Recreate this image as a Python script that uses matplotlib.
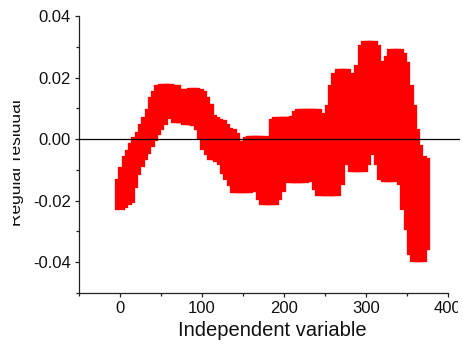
import matplotlib
matplotlib.use("Agg")
import matplotlib.pyplot as plt
from matplotlib.ticker import MultipleLocator, FormatStrFormatter
from matplotlib.transforms import Bbox, TransformedBbox

plt.rcParams["font.family"] = ["Liberation Sans", "DejaVu Sans"]
plt.rcParams["axes.unicode_minus"] = False

# Independent variable grid with the highest and lowest regular residual
# found at each step
independent = list(range(0, 373, 4))
residual_high = [
    -0.0145, -0.0106, -0.0070, -0.0050, -0.0028, -0.0011, 0.0008, 0.0034,
    0.0057, 0.0083, 0.0119, 0.0141, 0.0161, 0.0164, 0.0164, 0.0164,
    0.0161, 0.0158, 0.0145, 0.0141, 0.0145, 0.0148, 0.0151, 0.0151,
    0.0148, 0.0141, 0.0122, 0.0099, 0.0063, 0.0054, 0.0050, 0.0047,
    0.0034, 0.0021, 0.0018, 0.0002, -0.0021, -0.0028, -0.0024, -0.0011,
    -0.0005, -0.0005, -0.0005, -0.0005, -0.0021, -0.0037, -0.0005, 0.0050,
    0.0054, 0.0054, 0.0054, 0.0054, 0.0054, 0.0060, 0.0076, 0.0083,
    0.0083, 0.0083, 0.0083, 0.0083, 0.0083, 0.0070, 0.0054, 0.0024,
    0.0093, 0.0158, 0.0200, 0.0213, 0.0213, 0.0213, 0.0200, 0.0184,
    0.0180, 0.0226, 0.0288, 0.0301, 0.0301, 0.0301, 0.0288, 0.0239,
    0.0200, 0.0184, 0.0255, 0.0275, 0.0275, 0.0275, 0.0265, 0.0233,
    0.0158, 0.0093, 0.0018, -0.0037, -0.0070, -0.0076,
]
residual_low = [
    -0.0213, -0.0207, -0.0197, -0.0190, -0.0141, -0.0099, -0.0073, -0.0050,
    -0.0031, -0.0011, 0.0011, 0.0028, 0.0047, 0.0063, 0.0083, 0.0096,
    0.0089, 0.0070, 0.0067, 0.0067, 0.0063, 0.0063, 0.0063, 0.0060,
    0.0047, 0.0015, -0.0018, -0.0037, -0.0050, -0.0050, -0.0057, -0.0067,
    -0.0096, -0.0115, -0.0135, -0.0158, -0.0158, -0.0158, -0.0158, -0.0158,
    -0.0154, -0.0148, -0.0148, -0.0180, -0.0197, -0.0197, -0.0197, -0.0197,
    -0.0180, -0.0154, -0.0112, -0.0119, -0.0125, -0.0125, -0.0125, -0.0125,
    -0.0125, -0.0122, -0.0112, -0.0106, -0.0148, -0.0167, -0.0167, -0.0167,
    -0.0167, -0.0167, -0.0167, -0.0132, -0.0057, -0.0044, -0.0067, -0.0089,
    -0.0089, -0.0089, -0.0089, -0.0067, -0.0002, -0.0002, -0.0034, -0.0067,
    -0.0115, -0.0122, -0.0122, -0.0122, -0.0099, -0.0067, -0.0132, -0.0213,
    -0.0278, -0.0359, -0.0382, -0.0382, -0.0382, -0.0343,
]

W, H = 464, 345
fig = plt.figure(figsize=(W / 100, H / 100), dpi=100)
ax = fig.add_axes([79 / W, 1 - 293 / H, 369 / W, 277 / H])

# each column of square points, from its lowest to its highest residual
ax.vlines(independent, residual_low, residual_high, colors="#ff0000",
          linewidth=7.4, capstyle="projecting", zorder=2)
ax.axhline(0, color="black", lw=0.9, xmax=1.03, clip_on=False, zorder=3)

ax.set_xlim(-50, 400)
ax.set_ylim(-0.05, 0.04)

for side in ("top", "right"):
    ax.spines[side].set_visible(False)
for side in ("left", "bottom"):
    ax.spines[side].set_linewidth(0.9)
    ax.spines[side].set_color("#222222")

ax.xaxis.set_major_locator(MultipleLocator(100))
ax.xaxis.set_minor_locator(MultipleLocator(50))
ax.yaxis.set_major_locator(MultipleLocator(0.02))
ax.yaxis.set_minor_locator(MultipleLocator(0.01))
ax.yaxis.set_major_formatter(FormatStrFormatter("%.2f"))

ax.tick_params(which="major", direction="out", length=3, width=0.9,
               labelsize=12, pad=3, color="#222222", labelcolor="#111111")
ax.tick_params(which="minor", direction="out", length=2, width=0.9,
               color="#222222")

ax.set_xlabel("Independent variable", fontsize=14.5, color="#111111")
ax.xaxis.set_label_coords(0.523, -0.100)

ax.set_ylabel("Regular residual", fontsize=12.5, color="#111111")
ax.yaxis.set_label_coords(-0.149, 0.469)
ylab = ax.yaxis.label
ylab.set_clip_box(TransformedBbox(Bbox.from_extents(13 / W, 0, 1, 1),
                                  fig.transFigure))
ylab.set_clip_on(True)

# the last x tick label runs off the right edge of the canvas
edge_clip = TransformedBbox(Bbox.from_extents(0, 0, 458 / W, 1), fig.transFigure)
for lbl in ax.get_xticklabels():
    lbl.set_clip_box(edge_clip)
    lbl.set_clip_on(True)

fig.savefig("out.png", dpi=100)
